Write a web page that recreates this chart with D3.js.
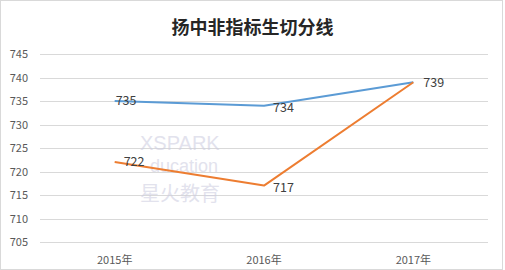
<html>
<head>
<meta charset="utf-8">
<script src="https://d3js.org/d3.v7.min.js"></script>
<style>
body { margin: 0; background: #fff; }
svg { display: block; }
text { font-family: "Noto Sans CJK SC", "Liberation Sans", sans-serif; }
.axis path { display: none; }
.axis line { display: none; }
.axis text { font-size: 11px; fill: #595959; }
</style>
</head>
<body>
<svg width="505" height="270"></svg>
<script>
// data
var years = ["2015年", "2016年", "2017年"];
var seriesA = [735, 734, 739];
var seriesB = [722, 717, 739];
var yTicks = [705, 710, 715, 720, 725, 730, 735, 740, 745];

var svg = d3.select("svg"),
    margin = {top: 54, right: 17, bottom: 28, left: 40},
    width = +svg.attr("width"),
    height = +svg.attr("height");

// frame
svg.append("rect")
    .attr("x", 0.5).attr("y", 0.5)
    .attr("width", width - 3).attr("height", height - 1)
    .attr("fill", "#fff")
    .attr("stroke", "#d9d9d9");

var x = d3.scaleBand()
    .domain(years)
    .range([margin.left, width - margin.right]);

var y = d3.scaleLinear()
    .domain([705, 745])
    .range([height - margin.bottom, margin.top]);

// grid
svg.append("g")
    .selectAll("line")
    .data(yTicks)
    .enter().append("line")
    .attr("x1", margin.left)
    .attr("x2", width - margin.right)
    .attr("y1", d => Math.round(y(d)) + 0.5)
    .attr("y2", d => Math.round(y(d)) + 0.5)
    .attr("stroke", "#d9d9d9")
    .attr("stroke-width", 1);

// watermark
var wm = svg.append("g").attr("fill", "#cfcfe2").attr("opacity", 0.6);
wm.append("text").attr("x", 140).attr("y", 150).text("XSPARK")
    .style("font-size", "20px").style("font-family", "Liberation Sans");
wm.append("text").attr("x", 150).attr("y", 172).text("ducation")
    .style("font-size", "18px").style("font-family", "Liberation Sans");
wm.append("text").attr("x", 140).attr("y", 201).text("星火教育")
    .style("font-size", "20px");

// title
svg.append("text")
    .attr("x", width / 2)
    .attr("y", 34)
    .attr("text-anchor", "middle")
    .style("font-size", "18px")
    .style("font-weight", "bold")
    .attr("fill", "#262626")
    .text("扬中非指标生切分线");

// axes
svg.append("g")
    .attr("class", "axis")
    .attr("transform", "translate(" + (margin.left - 12) + ",0)")
    .call(d3.axisLeft(y).tickValues(yTicks).tickSize(0).tickPadding(0));

svg.append("g")
    .attr("class", "axis")
    .attr("transform", "translate(0," + (height - margin.bottom + 14) + ")")
    .call(d3.axisBottom(x).tickSize(0).tickPadding(0));

var line = d3.line()
    .x((d, i) => x(years[i]) + x.bandwidth() / 2)
    .y(d => y(d));

var series = [
    {values: seriesA, color: "#5b9bd5"},
    {values: seriesB, color: "#ed7d31"}
];

series.forEach(function(s) {
    svg.append("path")
        .datum(s.values)
        .attr("fill", "none")
        .attr("stroke", s.color)
        .attr("stroke-width", 2)
        .attr("stroke-linejoin", "round")
        .attr("d", line);
});

// labels
var labels = [
    {i: 0, v: seriesA[0], dx: 1, dy: 0},
    {i: 1, v: seriesA[1], dx: 9, dy: 2},
    {i: 2, v: seriesA[2], dx: 10, dy: 0},
    {i: 0, v: seriesB[0], dx: 9, dy: 0},
    {i: 1, v: seriesB[1], dx: 9, dy: 2}
];

svg.append("g")
    .selectAll("text")
    .data(labels)
    .enter().append("text")
    .attr("x", d => x(years[d.i]) + x.bandwidth() / 2 + d.dx)
    .attr("y", d => y(d.v) + d.dy)
    .attr("dy", "0.35em")
    .style("font-size", "12.5px")
    .attr("fill", "#404040")
    .text(d => d.v);
</script>
</body>
</html>
